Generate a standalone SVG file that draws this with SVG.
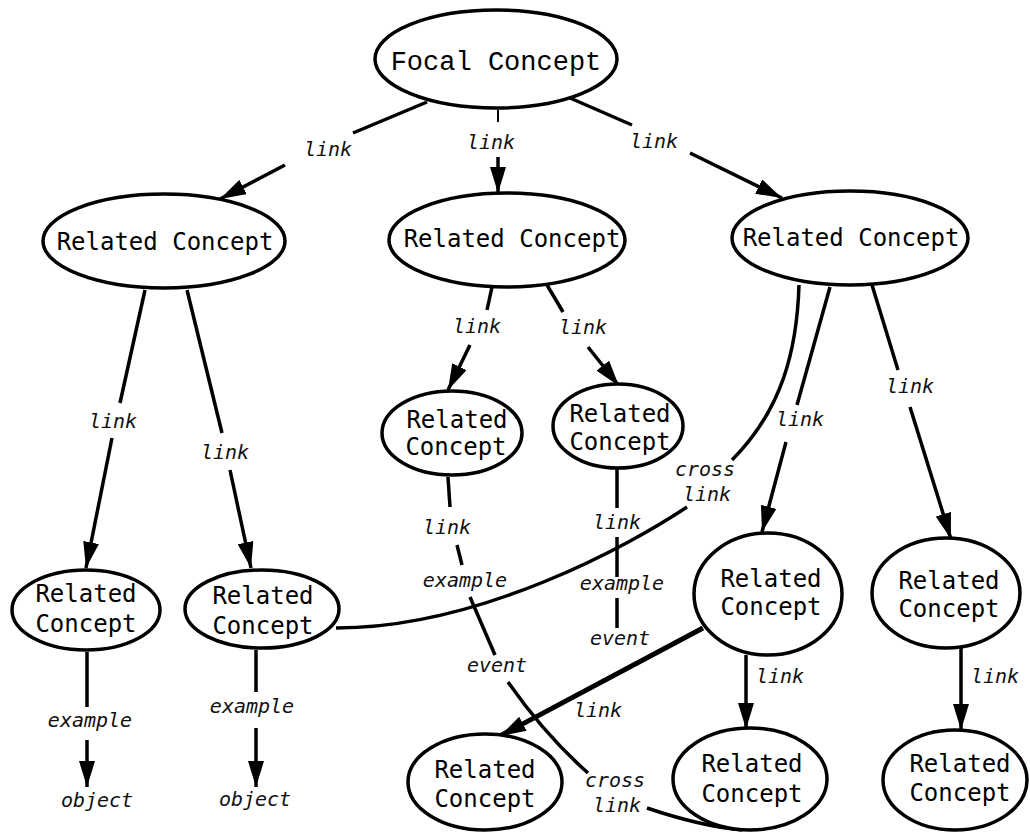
<svg xmlns="http://www.w3.org/2000/svg" width="1030" height="834" viewBox="0 0 1030 834">
  <defs>
    <marker id="arrow" markerUnits="userSpaceOnUse" markerWidth="26" markerHeight="16" refX="26" refY="8" orient="auto">
      <path d="M0,0 L26,8 L0,16 Z" fill="#000"/>
    </marker>
  </defs>
  <style>
    .node ellipse { fill:#fff; stroke:#000; stroke-width:3.5; }
    .node text { font-family:"DejaVu Sans Mono", "Liberation Mono", monospace; font-size:24px; text-anchor:middle; fill:#000; }
    .node text.focal { font-family:"Liberation Mono", "DejaVu Sans Mono", monospace; font-size:27px; }
    .edge { fill:none; stroke:#000; stroke-width:3.5; }
    .thick { stroke-width:5; }
    .thin { stroke-width:2; }
    .lbl { font-family:"DejaVu Sans Mono", "Liberation Mono", monospace; font-size:20px; font-style:italic; text-anchor:middle; fill:#111; }
  </style>
  <rect width="1030" height="834" fill="#fff"/>

  <!-- connectors and their labels -->
  <g id="connectors">
    <!-- focal concept to first level -->
    <path class="edge" d="M427,102 L353,133"/>
    <path class="edge" d="M285,165 L220,199" marker-end="url(#arrow)"/>
    <text class="lbl" x="328" y="156">link</text>

    <path class="edge thin" d="M498,110 L498,122"/>
    <path class="edge" d="M498,157 L498,193" marker-end="url(#arrow)"/>
    <text class="lbl" x="491" y="149">link</text>

    <path class="edge" d="M570,98 L632,125"/>
    <path class="edge" d="M690,153 L782,198" marker-end="url(#arrow)"/>
    <text class="lbl" x="654" y="148">link</text>

    <!-- left branch -->
    <path class="edge" d="M145,290 L120,403"/>
    <path class="edge" d="M112,438 L86,568" marker-end="url(#arrow)"/>
    <text class="lbl" x="113" y="428">link</text>

    <path class="edge" d="M187,290 L222,433"/>
    <path class="edge" d="M230,470 L251,568" marker-end="url(#arrow)"/>
    <text class="lbl" x="225" y="459">link</text>

    <path class="edge" d="M87,652 L87,707"/>
    <path class="edge" d="M87,740 L87,787" marker-end="url(#arrow)"/>
    <text class="lbl" x="90" y="727">example</text>
    <text class="lbl" x="97" y="807">object</text>

    <path class="edge" d="M256,650 L256,692"/>
    <path class="edge" d="M256,728 L256,787" marker-end="url(#arrow)"/>
    <text class="lbl" x="252" y="713">example</text>
    <text class="lbl" x="255" y="806">object</text>

    <!-- middle branch -->
    <path class="edge" d="M492,287 L487,310"/>
    <path class="edge" d="M470,345 L448,390" marker-end="url(#arrow)"/>
    <text class="lbl" x="477" y="333">link</text>

    <path class="edge" d="M547,285 L563,312"/>
    <path class="edge" d="M588,347 L619,386" marker-end="url(#arrow)"/>
    <text class="lbl" x="583" y="334">link</text>

    <path class="edge" d="M448,477 L450,507"/>
    <path class="edge" d="M457,545 L462,565"/>
    <path class="edge" d="M470,597 L495,655"/>
    <path class="edge" d="M508,682 Q545,735 588,773"/>
    <path class="edge" d="M647,808 Q700,826 742,830"/>
    <text class="lbl" x="447" y="534">link</text>
    <text class="lbl" x="465" y="587">example</text>
    <text class="lbl" x="497" y="672">event</text>
    <text class="lbl" x="615" y="787">cross</text>
    <text class="lbl" x="617" y="812">link</text>

    <path class="edge" d="M617,469 L617,508"/>
    <path class="edge" d="M617,537 L617,577"/>
    <path class="edge" d="M617,598 L617,628"/>
    <text class="lbl" x="617" y="529">link</text>
    <text class="lbl" x="622" y="590">example</text>
    <text class="lbl" x="620" y="645">event</text>

    <!-- right branch -->
    <path class="edge" d="M830,287 L797,405"/>
    <path class="edge" d="M786,442 L762,532" marker-end="url(#arrow)"/>
    <text class="lbl" x="800" y="426">link</text>

    <path class="edge" d="M872,285 L898,370"/>
    <path class="edge" d="M910,407 L951,539" marker-end="url(#arrow)"/>
    <text class="lbl" x="910" y="393">link</text>

    <path class="edge" d="M799,285 C797,350 782,410 732,460"/>
    <path class="edge" d="M687,507 C630,545 480,628 336,628"/>
    <text class="lbl" x="705" y="476">cross</text>
    <text class="lbl" x="707" y="501">link</text>

    <path class="edge" d="M746,655 L746,729" marker-end="url(#arrow)"/>
    <text class="lbl" x="780" y="683">link</text>

    <path class="edge" d="M961,648 L961,730" marker-end="url(#arrow)"/>
    <text class="lbl" x="995" y="683">link</text>

    <path class="edge thick" d="M703,628 L500,736" marker-end="url(#arrow)"/>
    <text class="lbl" x="598" y="717">link</text>
  </g>

  <g id="focal" class="node">
    <ellipse cx="496" cy="59" rx="121" ry="49"/>
    <text class="focal" x="496" y="70">Focal Concept</text>
  </g>

  <g id="rc-left" class="node">
    <ellipse cx="164" cy="241" rx="121" ry="47"/>
    <text x="165" y="250">Related Concept</text>
  </g>
  <g id="rc-middle" class="node">
    <ellipse cx="507" cy="240" rx="118" ry="47"/>
    <text x="512" y="247">Related Concept</text>
  </g>
  <g id="rc-right" class="node">
    <ellipse cx="850" cy="238" rx="118" ry="47"/>
    <text x="851" y="246">Related Concept</text>
  </g>

  <g id="rc-a" class="node">
    <ellipse cx="86" cy="610" rx="74" ry="40"/>
    <text x="86" y="602">Related</text>
    <text x="86" y="632">Concept</text>
  </g>
  <g id="rc-b" class="node">
    <ellipse cx="262" cy="609" rx="77" ry="39"/>
    <text x="263" y="604">Related</text>
    <text x="263" y="634">Concept</text>
  </g>
  <g id="rc-c" class="node">
    <ellipse cx="452" cy="433" rx="70" ry="42"/>
    <text x="457" y="428">Related</text>
    <text x="456" y="455">Concept</text>
  </g>
  <g id="rc-d" class="node">
    <ellipse cx="618" cy="426" rx="65" ry="42"/>
    <text x="620" y="422">Related</text>
    <text x="620" y="450">Concept</text>
  </g>
  <g id="rc-e" class="node">
    <ellipse cx="768" cy="594" rx="74" ry="61"/>
    <text x="771" y="587">Related</text>
    <text x="771" y="615">Concept</text>
  </g>
  <g id="rc-f" class="node">
    <ellipse cx="946" cy="593" rx="74" ry="55"/>
    <text x="949" y="589">Related</text>
    <text x="949" y="617">Concept</text>
  </g>
  <g id="rc-g" class="node">
    <ellipse cx="750" cy="779" rx="77" ry="51"/>
    <text x="752" y="772">Related</text>
    <text x="752" y="802">Concept</text>
  </g>
  <g id="rc-h" class="node">
    <ellipse cx="955" cy="780" rx="72" ry="50"/>
    <text x="960" y="772">Related</text>
    <text x="960" y="801">Concept</text>
  </g>
  <g id="rc-i" class="node">
    <ellipse cx="485" cy="782" rx="77" ry="48"/>
    <text x="485" y="778">Related</text>
    <text x="485" y="807">Concept</text>
  </g>
</svg>
